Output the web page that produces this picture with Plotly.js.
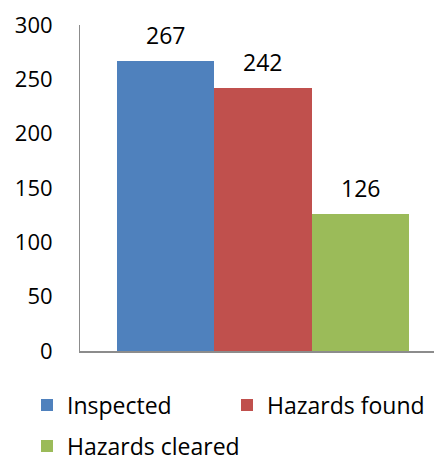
<!DOCTYPE html>
<html>
<head>
<meta charset="utf-8">
<script src="https://cdn.plot.ly/plotly-3.0.1.min.js"></script>
<style>html,body{margin:0;padding:0;background:#fff;}#chart{width:434px;height:462px;}</style>
</head>
<body>
<div id="chart"></div>
<script>
const seriesNames = ["Inspected", "Hazards found", "Hazards cleared"];
const inspected = [267];
const hazardsFound = [242];
const hazardsCleared = [126];
const yTicks = [0, 50, 100, 150, 200, 250, 300];

const colors = ["#4F81BD", "#C0504D", "#9BBB59"];
const values = [inspected, hazardsFound, hazardsCleared];
const legendIds = ["legend", "legend2", "legend3"];
const font = "Open Sans, Liberation Sans, sans-serif";

const traces = values.map((v, i) => ({
  type: "bar",
  name: seriesNames[i],
  legend: legendIds[i],
  x: [seriesNames[i]],
  y: v,
  marker: {color: colors[i], line: {width: 0}},
  hoverinfo: "none"
}));

const annotations = values.map((v, i) => ({
  xref: "x", yref: "y",
  x: seriesNames[i], y: v[0],
  text: String(v[0]),
  showarrow: false,
  yanchor: "middle",
  yshift: 26,
  font: {family: font, size: 23, color: "#000"}
}));

const legendBase = {
  orientation: "h",
  xref: "container", yref: "container",
  xanchor: "left", yanchor: "middle",
  font: {family: font, size: 23, color: "#000"},
  itemclick: false
};

const layout = {
  width: 434, height: 462,
  margin: {l: 80, r: 0, t: 25, b: 111, autoexpand: false},
  paper_bgcolor: "#fff", plot_bgcolor: "#fff",
  barmode: "overlay",
  bargap: 0,
  font: {family: font, size: 22, color: "#000"},
  xaxis: {
    type: "category",
    categoryorder: "array", categoryarray: seriesNames,
    range: [-0.88, 2.757],
    showticklabels: false, ticks: "",
    showgrid: false, zeroline: false,
    showline: true, linecolor: "#8c8c8c", linewidth: 2,
    fixedrange: true
  },
  yaxis: {
    range: [0, 300],
    tickvals: yTicks,
    ticktext: yTicks.map(String),
    ticks: "", ticklen: 0,
    showgrid: false, zeroline: false,
    showline: true, linecolor: "#8c8c8c", linewidth: 1,
    tickfont: {family: font, size: 22, color: "#000"},
    ticklabelstandoff: 22,
    fixedrange: true
  },
  annotations: annotations,
  showlegend: true,
  legend: Object.assign({}, legendBase, {x: 27 / 434, y: 1 - 405 / 462}),
  legend2: Object.assign({}, legendBase, {x: 227 / 434, y: 1 - 405 / 462}),
  legend3: Object.assign({}, legendBase, {x: 27 / 434, y: 1 - 446 / 462})
};

Plotly.newPlot("chart", traces, layout, {staticPlot: true, displayModeBar: false});
</script>
</body>
</html>
